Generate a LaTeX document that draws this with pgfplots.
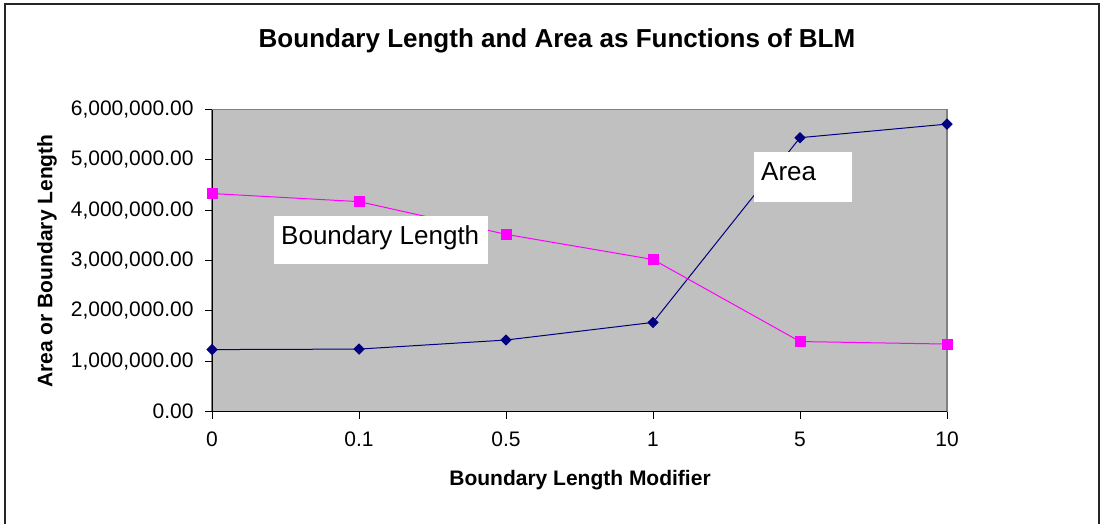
\documentclass[border=0pt]{standalone}
\usepackage{fontspec}
\setmainfont{Liberation Sans}
\usepackage{pgfplots}
\pgfplotsset{compat=1.18}
\definecolor{plotgray}{HTML}{C0C0C0}
\definecolor{bordergray}{HTML}{808080}
\definecolor{navyc}{HTML}{000080}
\definecolor{magc}{HTML}{FF00FF}
\begin{document}
\begin{tikzpicture}[x=1pt,y=1pt]
\path[use as bounding box] (0,0) rectangle (1102,-524);
\draw[line width=1.3pt, black!85] (5,-540) -- (5,-4) -- (1099,-4) -- (1099,-540);
\begin{axis}[
  at={(212pt,-411.5pt)}, anchor=south west,
  scale only axis, width=735pt, height=302pt,
  xmin=0, xmax=5, ymin=0, ymax=6000000,
  clip=false,
  axis background/.style={fill=plotgray, draw=bordergray, line width=1.2pt},
  axis x line*=bottom, axis y line*=left,
  axis line style={-, black, line width=1pt},
  xtick={0,1,2,3,4,5},
  xticklabels={0,0.1,0.5,1,5,10},
  ytick={0,1000000,2000000,3000000,4000000,5000000,6000000},
  yticklabels={0.00,{1,000,000.00},{2,000,000.00},{3,000,000.00},{4,000,000.00},{5,000,000.00},{6,000,000.00}},
  scaled y ticks=false,
  tick align=outside,
  major tick length=7pt,
  tick style={black, line width=0.8pt},
  tick label style={font=\fontsize{21}{25}\selectfont, black},
  xticklabel style={yshift=-10pt},
  yticklabel style={xshift=-8pt},
]
\addplot[color=navyc, line width=1pt, mark=square*, mark size=3.5pt, mark options={fill=navyc, draw=navyc, rotate=45}]
  coordinates {(0,1230000)(1,1240000)(2,1420000)(3,1770000)(4,5440000)(5,5710000)};
\addplot[color=magc, line width=1pt, mark=square*, mark size=5pt, mark options={fill=magc, draw=magc}]
  coordinates {(0,4330000)(1,4170000)(2,3520000)(3,3020000)(4,1390000)(5,1340000)};
\end{axis}
\fill[white] (274,-216) rectangle (488,-264);
\node[anchor=base west, inner sep=0pt, font=\fontsize{26}{30}\selectfont] at (281,-244) {Boundary Length};
\fill[white] (754,-152) rectangle (852,-202);
\node[anchor=base west, inner sep=0pt, font=\fontsize{26}{30}\selectfont] at (761,-180) {Area};
\node[font=\bfseries\fontsize{26}{30}\selectfont] at (557,-41) {Boundary Length and Area as Functions of BLM};
\node[font=\bfseries\fontsize{21}{25}\selectfont] at (580,-480) {Boundary Length Modifier};
\node[font=\bfseries\fontsize{21}{25}\selectfont, rotate=90] at (47,-261) {Area or Boundary Length};
\end{tikzpicture}
\end{document}
